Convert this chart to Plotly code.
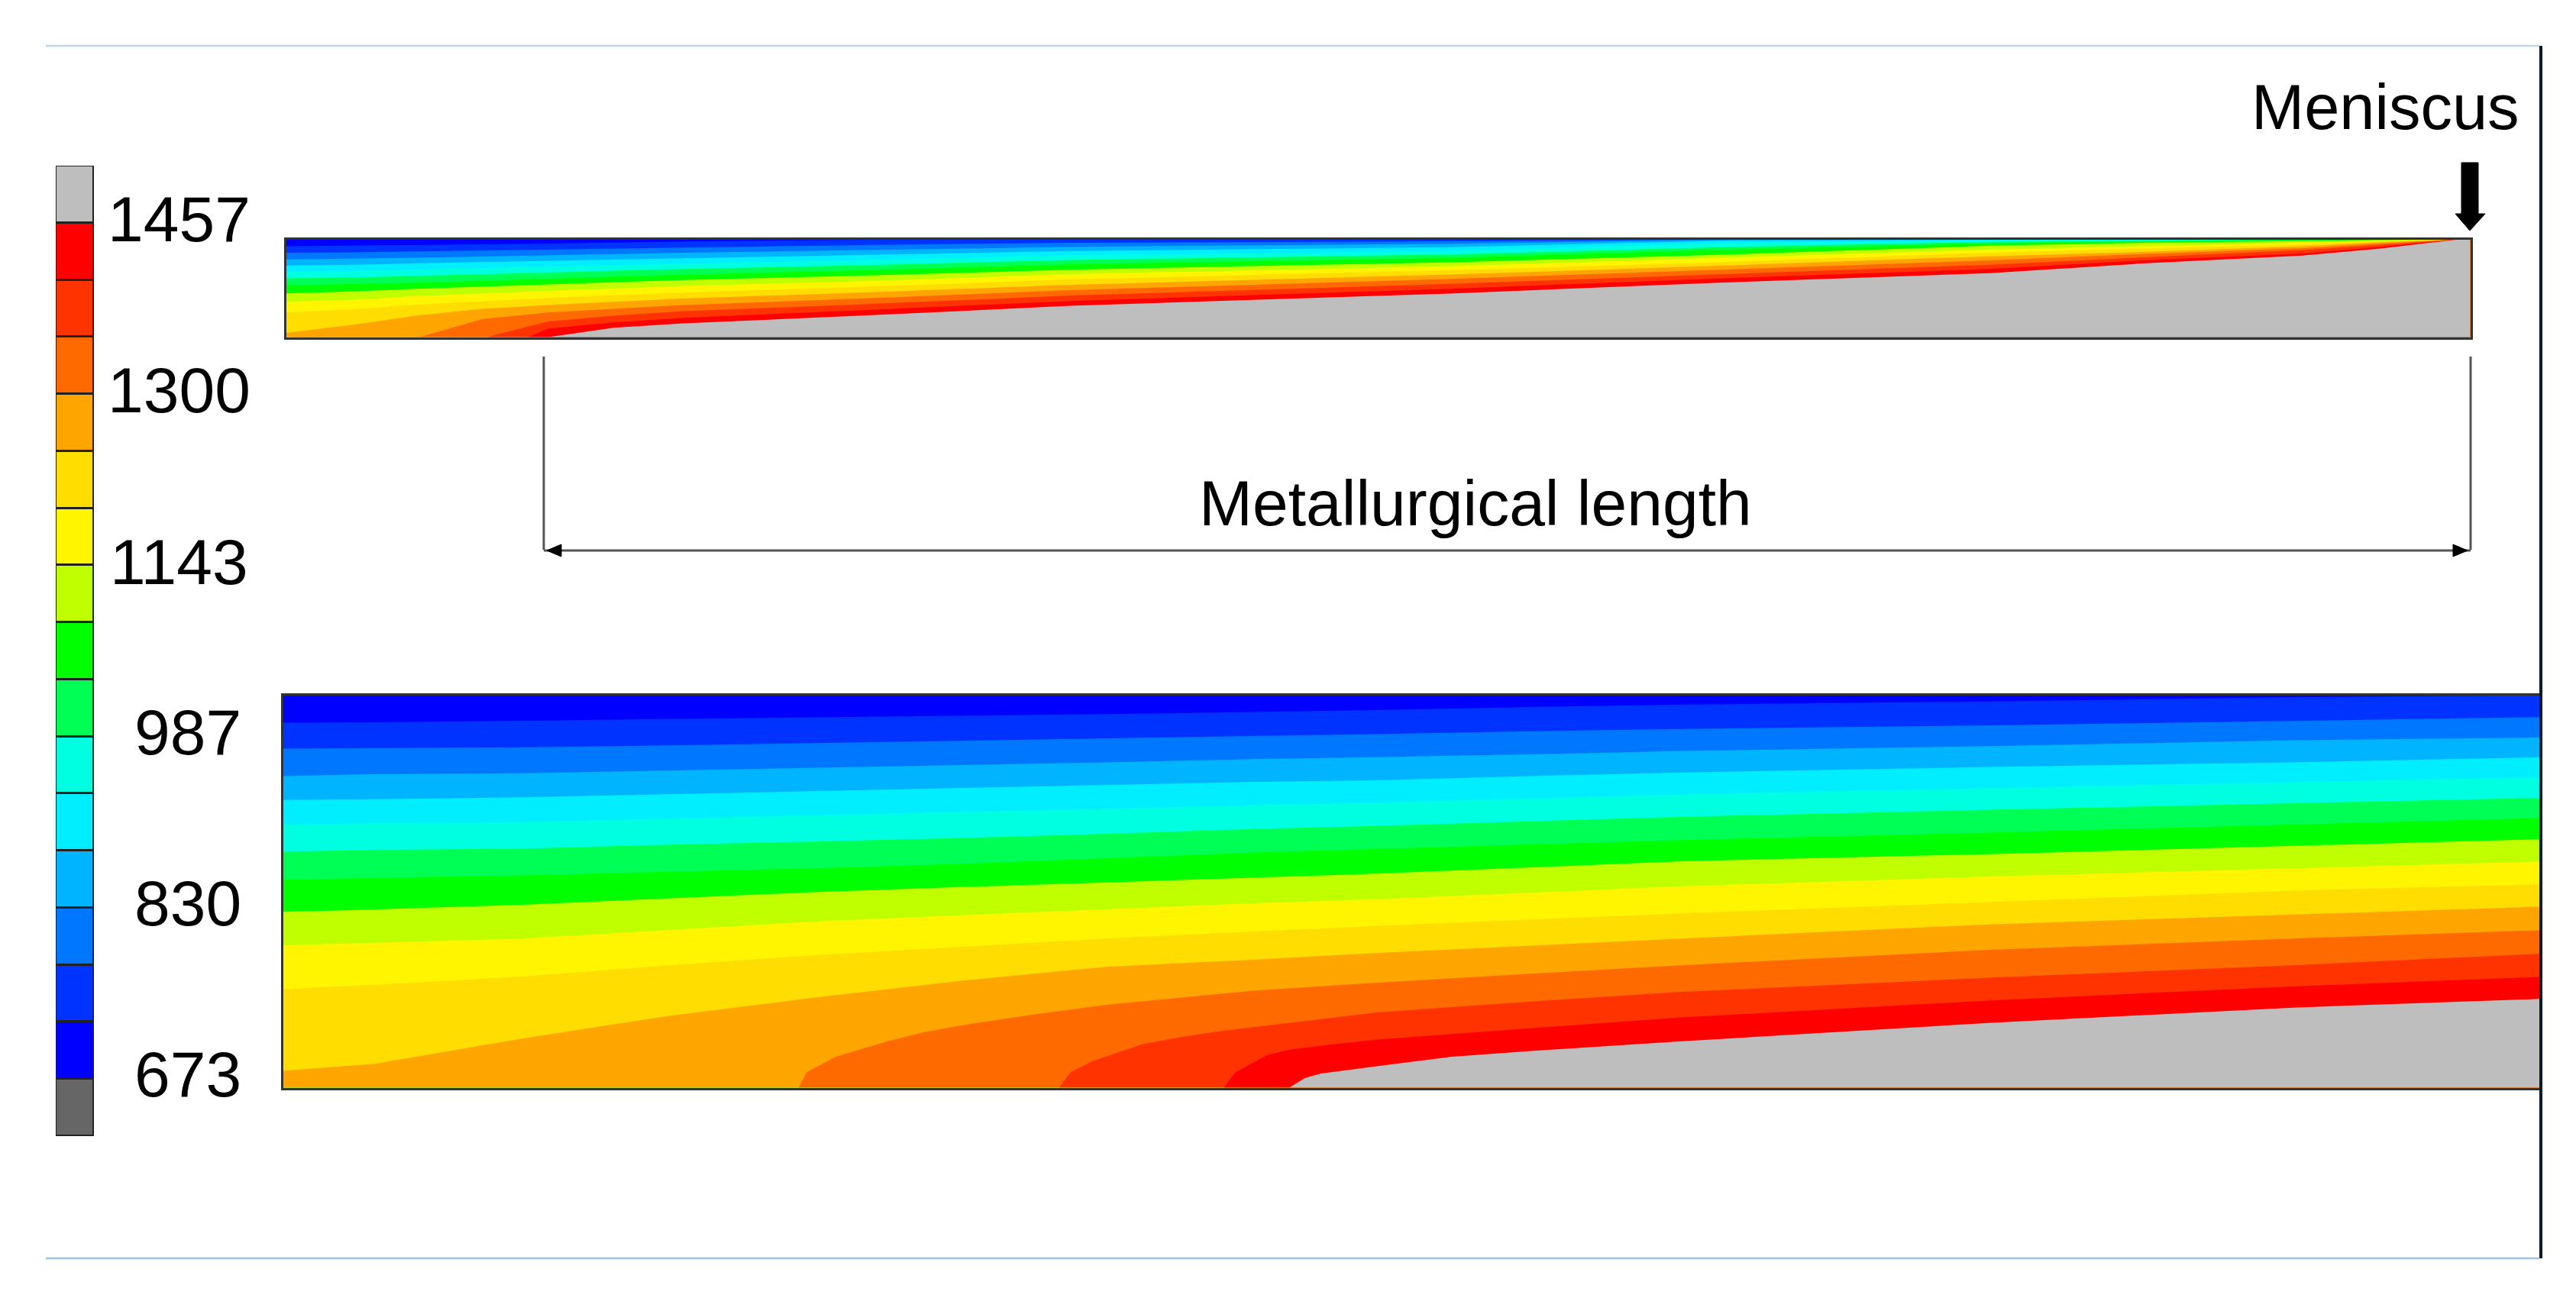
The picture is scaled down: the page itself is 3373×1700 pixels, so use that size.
import plotly.graph_objects as go

W, H = 3373, 1700

# ---------- colour scale (cold -> hot) ----------
band_colors = ["#0000FF", "#0033FF", "#0077FF", "#00B4FF", "#00EEFF", "#00FFE1", "#00FF55", "#00FF00",
               "#BFFF00", "#FFF500", "#FFDD00", "#FFA500", "#FF6A00", "#FF3300", "#FF0000", "#BEBEBE"]
under_color = "#666666"
tick_labels = [673, 830, 987, 1143, 1300, 1457]
level_step = 52.33
level_base = 620.67  # lower edge of the lowest legend cell

# ---------- zoomed strand (lower panel): isotherm depth (%) along the strand (%) ----------
low_x = [0, 4.1, 10.6, 17.1, 23.5, 30, 36.5, 43, 48.4, 55.2, 62, 75.6, 89.1, 100]
low_b1 = [7.0, 6.9, 6.5, 6.1, 5.6, 5.2, 4.8, 4.3, 3.8, 3.0, 2.4, 1.6, 0.5, 0]
low_b2 = [13.6, 13.5, 13.3, 12.8, 12.2, 11.7, 11.1, 10.5, 9.9, 9.2, 8.6, 7.7, 6.5, 5.6]
low_b3 = [20.6, 20.1, 19.9, 19.2, 18.6, 17.8, 17.1, 16.3, 15.8, 15.1, 14.2, 13.0, 11.5, 10.8]
low_b4 = [26.7, 26.5, 26.0, 25.2, 24.4, 23.7, 22.9, 22.1, 21.7, 20.6, 19.7, 18.3, 17.1, 15.8]
low_b5 = [33.0, 32.6, 32.3, 31.4, 30.5, 29.7, 29.0, 28.0, 27.4, 26.3, 25.3, 23.7, 22.2, 20.9]
low_b6 = [39.9, 39.4, 39.1, 38.1, 37.3, 36.4, 35.3, 34.1, 33.3, 32.1, 31.0, 29.2, 27.6, 26.2]
low_b7 = [47.0, 46.6, 45.9, 45.0, 44.1, 43.0, 41.6, 40.1, 39.2, 38.0, 36.9, 35.0, 33.0, 31.3]
low_b8 = [55.2, 54.6, 53.4, 51.8, 50.2, 48.9, 47.7, 46.4, 45.5, 43.9, 42.3, 40.5, 38.4, 36.7]
low_b9 = [63.7, 63.1, 62.0, 59.9, 57.7, 56.1, 54.5, 53.0, 52.0, 50.3, 48.7, 46.2, 44.1, 42.4]
low_b10 = [74.9, 73.8, 71.7, 68.8, 66.3, 64.2, 62.0, 60.2, 58.8, 57.2, 55.6, 52.7, 49.8, 48.2]
low_b11 = [95.7, 93.9, 87.5, 81.7, 77.1, 72.8, 69.2, 67.4, 65.7, 63.8, 62.0, 58.4, 55.9, 53.9]
low_b12_x = [22.85, 23.2, 24.5, 26.8, 28.4, 30, 33.2, 36.5, 43, 48.4, 55.2, 62, 75.6, 89.1, 100]
low_b12 = [100, 96.1, 92.1, 88.2, 85.9, 84.2, 81.4, 78.9, 75.3, 73.3, 71.0, 68.8, 64.9, 62.0, 59.9]
low_b13_x = [34.4, 34.9, 35.9, 38.1, 39.8, 41.4, 44.6, 48.4, 55.2, 62, 75.6, 89.1, 100]
low_b13 = [100, 96.1, 93.2, 88.9, 87.1, 85.7, 83.5, 80.9, 78.1, 75.6, 72.0, 68.8, 65.9]
low_b14_x = [41.7, 42.2, 43.6, 44.6, 46.2, 48.4, 55.2, 62, 75.6, 89.1, 100]
low_b14 = [100, 96.1, 91.8, 90.3, 89.2, 87.8, 84.9, 82.1, 77.8, 74.2, 71.8]
low_b15_x = [44.6, 45.3, 46.0, 46.9, 48.4, 51.8, 55.2, 62, 75.6, 89.1, 100]
low_b15 = [100, 97.5, 96.4, 95.7, 94.6, 92.1, 90.7, 88.2, 83.5, 79.6, 77.4]

# ---------- whole strand (upper panel) ----------
top_x = [0, 3, 6, 9, 12, 15, 18.2, 27, 35.9, 53.3, 65.6, 78, 85, 92.3, 95.9, 99.5, 100]
top_b1 = [7.0, 6.5, 5.7, 5.0, 4.2, 3.0, 2.1, 0.3, 0, 0, 0, 0, 0, 0, 0, 0, 0]
top_b2 = [13.6, 13.3, 12.3, 11.4, 10.4, 9.2, 8.2, 5.6, 3.5, 2.0, 0, 0, 0, 0, 0, 0, 0]
top_b3 = [20.6, 19.9, 18.7, 17.5, 16.2, 15.1, 13.7, 10.8, 7.7, 4.5, 0.5, 0, 0, 0, 0, 0, 0]
top_b4 = [26.7, 26.0, 24.5, 23.3, 22.0, 20.6, 19.1, 15.8, 12.0, 8.0, 1.5, 0.3, 0, 0, 0, 0, 0]
top_b5 = [33.0, 32.3, 30.6, 29.4, 27.8, 26.3, 24.7, 20.9, 16.5, 12.0, 4.0, 1.0, 0.5, 0, 0, 0, 0]
top_b6 = [39.9, 39.1, 37.4, 35.9, 33.9, 32.1, 30.3, 26.2, 21.0, 15.5, 8.0, 2.6, 1.3, 0, 0, 0, 0]
top_b7 = [47.0, 45.9, 44.3, 42.3, 39.9, 38.0, 36.1, 31.3, 25.5, 19.0, 10.7, 4.3, 2.3, 0.8, 0, 0, 0]
top_b8 = [55.2, 53.4, 50.5, 48.3, 46.2, 43.9, 41.6, 36.7, 31.0, 23.5, 15.8, 6.5, 3.6, 1.8, 0.5, 0, 0]
top_b9 = [63.7, 62.0, 58.1, 55.3, 52.8, 50.3, 47.7, 42.4, 35.5, 27.5, 19.0, 10.3, 7.0, 3.6, 1.3, 0, 0]
top_b10 = [74.9, 71.7, 66.8, 63.1, 59.9, 57.2, 54.4, 48.2, 41.0, 31.5, 23.5, 13.7, 9.4, 5.0, 2.0, 0, 0]
top_b11 = [95.7, 87.5, 78.0, 71.0, 67.1, 63.8, 60.5, 53.9, 46.5, 36.0, 27.0, 17.3, 12.8, 7.0, 3.0, 0, 0]
top_b12_x = [6.1, 9, 12, 15, 18.2, 27, 35.9, 53.3, 65.6, 78, 85, 92.3, 95.9, 99.5, 100]
top_b12 = [100, 81.5, 74.8, 71.0, 67.2, 59.9, 52.0, 40.5, 31.0, 21.5, 15.0, 9.0, 4.3, 0, 0]
top_b13_x = [9.2, 12, 15, 18.2, 27, 35.9, 53.3, 65.6, 78, 85, 92.3, 95.9, 99.5, 100]
top_b13 = [100, 84.0, 78.1, 73.5, 65.9, 57.5, 45.5, 35.7, 26.0, 18.4, 11.0, 5.6, 0, 0]
top_b14_x = [11.1, 12, 15, 18.2, 27, 35.9, 53.3, 65.6, 78, 85, 92.3, 95.9, 99.5, 100]
top_b14 = [100, 91.2, 84.9, 80.3, 71.8, 63.0, 50.5, 40.0, 30.3, 21.4, 14.5, 7.6, 0, 0]
top_b15_x = [12, 15, 18.2, 27, 35.9, 53.3, 65.6, 78, 85, 92.3, 95.9, 99.5, 100]
top_b15 = [100, 90.5, 86.0, 77.4, 68.0, 55.4, 44.4, 34.5, 24.7, 16.6, 9.4, 0, 0]

low_curves = [([0, 100], [0, 0])] + [(low_x, b) for b in (low_b1, low_b2, low_b3, low_b4, low_b5, low_b6,
                                                          low_b7, low_b8, low_b9, low_b10, low_b11)] + [
    (low_b12_x, low_b12), (low_b13_x, low_b13), (low_b14_x, low_b14), (low_b15_x, low_b15)]
top_curves = [([0, 100], [0, 0])] + [(top_x, b) for b in (top_b1, top_b2, top_b3, top_b4, top_b5, top_b6,
                                                          top_b7, top_b8, top_b9, top_b10, top_b11)] + [
    (top_b12_x, top_b12), (top_b13_x, top_b13), (top_b14_x, top_b14), (top_b15_x, top_b15)]

fig = go.Figure()


def add_panel(curves, xa, ya):
    for (xs, ds), col in zip(curves, band_colors):
        fig.add_trace(go.Scatter(
            x=list(xs) + [100, xs[0]], y=list(ds) + [100, 100], xaxis=xa, yaxis=ya,
            mode="lines", fill="toself", fillcolor=col, line=dict(width=0),
            hoverinfo="skip", showlegend=False))


add_panel(top_curves, "x", "y")
add_panel(low_curves, "x2", "y2")

# legend cells, on a temperature axis
cell_colors = [under_color] + band_colors
cell_base = [level_base + i * level_step for i in range(len(cell_colors))]
fig.add_trace(go.Bar(x=[0.5] * len(cell_colors), y=[level_step] * len(cell_colors), base=cell_base,
                     width=1, xaxis="x3", yaxis="y3", marker=dict(color=cell_colors, line=dict(color="#222222", width=3)),
                     hoverinfo="skip", showlegend=False))


def px(v):
    return v / W


def py(v):
    return 1 - v / H


def panel_axes(x0, x1, y0, y1, xname, yname):
    common = dict(showgrid=False, zeroline=False, showticklabels=False, ticks="", showline=True,
                  mirror=True, linecolor="#333333", linewidth=3)
    return (dict(domain=[px(x0), px(x1)], range=[0, 100], anchor=yname, **common),
            dict(domain=[py(y1), py(y0)], range=[100, 0], anchor=xname, **common))


xa1, ya1 = panel_axes(374.5, 3234.5, 313.5, 441.5, "x", "y")
xa2, ya2 = panel_axes(370.5, 3325, 910.5, 1424.5, "x2", "y2")
xa3 = dict(domain=[px(73), px(123)], range=[0, 1], visible=False, anchor="y3")
ya3 = dict(domain=[py(1488), py(217)], range=[level_base, level_base + 17 * level_step], visible=False, anchor="x3")

FONT = "Liberation Sans"
ann = []
for t in tick_labels:
    cx = 234 if t >= 1000 else 246
    ann.append(dict(text=str(t), x=px(cx), xref="paper", y=t, yref="y3", xanchor="center", yanchor="middle",
                    yshift=6, showarrow=False, font=dict(family=FONT, size=84, color="black")))
ann.append(dict(text="Meniscus", x=px(3123), y=py(140), xref="paper", yref="paper", xanchor="center", yanchor="middle",
                showarrow=False, font=dict(family=FONT, size=83, color="black")))
ann.append(dict(text="Metallurgical length", x=px(1932), y=py(659), xref="paper", yref="paper", xanchor="center",
                yanchor="middle", showarrow=False, font=dict(family=FONT, size=84, color="black")))


def seg(x0, y0, x1, y1, color, width):
    return dict(type="line", xref="paper", yref="paper", x0=px(x0), y0=py(y0), x1=px(x1), y1=py(y1),
                line=dict(color=color, width=width))


def poly(points):
    d = "M " + " L ".join(f"{px(a):.5f},{py(b):.5f}" for a, b in points) + " Z"
    return dict(type="path", xref="paper", yref="paper", path=d, fillcolor="black", line=dict(color="black", width=1))


shapes = [
    seg(60, 60, 3325, 60, "#BDD7EE", 2.5),
    seg(60, 1648, 3325, 1648, "#9DC3E6", 2.5),
    seg(3327, 60, 3327, 1648, "#0A1A2A", 4),
    seg(712, 467, 712, 720, "#555555", 3),
    seg(3235, 467, 3235, 720, "#555555", 3),
    seg(712, 721, 3235, 721, "#555555", 3),
    poly([(716, 721), (735, 713), (735, 729)]),
    poly([(3231, 721), (3212, 713), (3212, 729)]),
    poly([(3223, 213), (3245, 213), (3245, 280), (3254, 280), (3234, 302), (3215, 280), (3223, 280)]),
]

fig.update_layout(
    width=W, height=H, margin=dict(l=0, r=0, t=0, b=0), paper_bgcolor="white", plot_bgcolor="white",
    barmode="overlay", bargap=0, showlegend=False,
    xaxis=xa1, yaxis=ya1, xaxis2=xa2, yaxis2=ya2, xaxis3=xa3, yaxis3=ya3,
    annotations=ann, shapes=shapes,
)

fig.write_html("out.html", config=dict(displayModeBar=False),
               post_script="document.body.style.margin='0';document.body.style.overflow='hidden';")
